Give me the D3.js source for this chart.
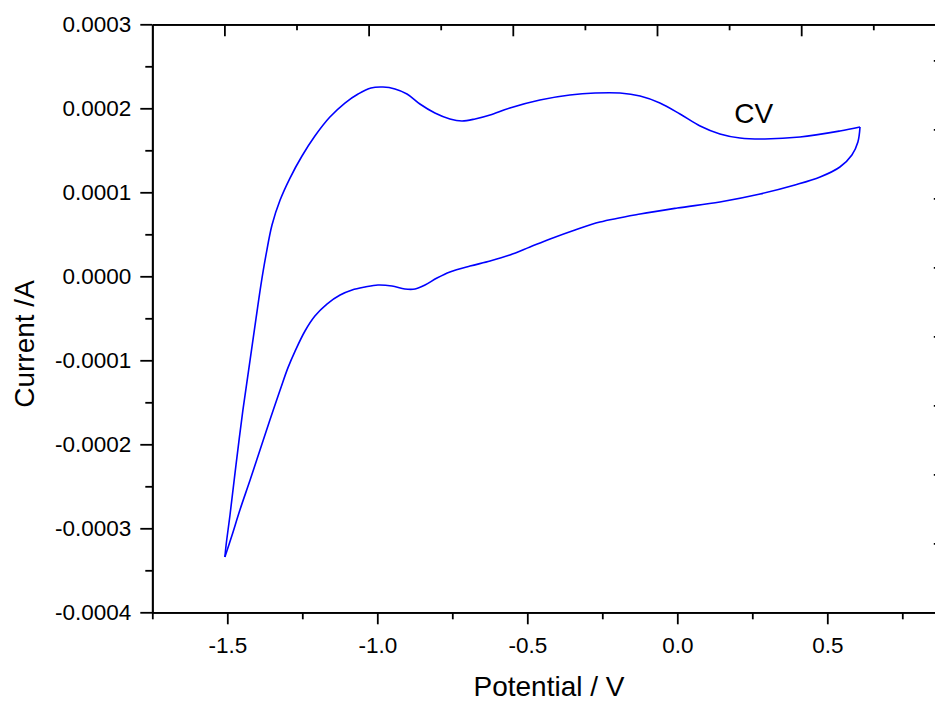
<!DOCTYPE html>
<html>
<head>
<meta charset="utf-8">
<script src="https://cdn.jsdelivr.net/npm/d3@7/dist/d3.min.js"></script>
<style>
  html, body { margin: 0; padding: 0; background: #fff; }
  svg { display: block; font-family: Arial, "Liberation Sans", Helvetica, sans-serif; }
</style>
</head>
<body>
<svg id="chart" width="935" height="702"></svg>
<script>
// Cyclic voltammogram: current (A) against potential (V).
// Branch running from the positive vertex back to the negative vertex (upper trace).
const upperPotential = [0.609, 0.542, 0.409, 0.292, 0.209, 0.142, 0.076, 0.009, -0.058, -0.124,
  -0.191, -0.274, -0.358, -0.458, -0.558, -0.624, -0.674, -0.718, -0.758, -0.808,
  -0.858, -0.901, -0.941, -0.981, -1.021, -1.064, -1.108, -1.158, -1.208, -1.251,
  -1.291, -1.324, -1.351, -1.371, -1.388, -1.404, -1.424, -1.448, -1.471, -1.491,
  -1.504, -1.508];
const upperCurrent = [0.0001777, 0.0001730, 0.0001658, 0.0001635, 0.0001646, 0.0001694, 0.0001789, 0.0001932, 0.0002063, 0.0002146,
  0.0002182, 0.0002182, 0.0002158, 0.0002099, 0.0002004, 0.0001920, 0.0001873, 0.0001849, 0.0001873, 0.0001944,
  0.0002051, 0.0002170, 0.0002230, 0.0002253, 0.0002242, 0.0002170, 0.0002063, 0.0001896, 0.0001670, 0.0001432,
  0.0001170, 0.0000908, 0.0000611, 0.0000254, -0.0000104, -0.0000496, -0.0000996, -0.0001592, -0.0002246, -0.0002842,
  -0.0003199, -0.0003342];

// Branch running from the negative vertex back up to the positive vertex (lower trace).
const lowerPotential = [-1.508, -1.484, -1.458, -1.424, -1.391, -1.358, -1.324, -1.298, -1.274, -1.241,
  -1.208, -1.168, -1.124, -1.084, -1.041, -0.998, -0.951, -0.908, -0.874, -0.841,
  -0.801, -0.758, -0.691, -0.624, -0.558, -0.491, -0.424, -0.341, -0.258, -0.124,
  0.000, 0.142, 0.276, 0.392, 0.476, 0.542, 0.582, 0.602, 0.609];
const lowerCurrent = [-0.0003342, -0.0003080, -0.0002782, -0.0002425, -0.0002068, -0.0001711, -0.0001354, -0.0001090, -0.0000890, -0.0000651,
  -0.0000473, -0.0000330, -0.0000223, -0.0000163, -0.0000128, -0.0000104, -0.0000116, -0.0000151, -0.0000151, -0.0000104,
  -0.0000021, 0.0000051, 0.0000122, 0.0000182, 0.0000254, 0.0000349, 0.0000444, 0.0000551, 0.0000646, 0.0000742,
  0.0000813, 0.0000885, 0.0000980, 0.0001087, 0.0001182, 0.0001301, 0.0001444, 0.0001599, 0.0001777];

// Axis ticks
const potentialMajorTicks = [-1.5, -1.0, -0.5, 0.0, 0.5];
const potentialMinorTicks = [-1.75, -1.25, -0.75, -0.25, 0.25, 0.75];
const currentMajorTicks = [-0.0004, -0.0003, -0.0002, -0.0001, 0.0, 0.0001, 0.0002, 0.0003];
const currentMinorTicks = [-0.00035, -0.00025, -0.00015, -0.00005, 0.00005, 0.00015, 0.00025];
// Opposite-layer frame ticks (unlabelled)
const topMajorTicks = [1, 3, 5, 7, 9];
const topMinorTicks = [2, 4, 6, 8, 10];
const rightTicks = [1, 2, 3, 4, 5, 6, 7, 8];

const seriesLabel = "CV";
const seriesLabelAt = [0.19, 0.000182];

const svg = d3.select("#chart");
const plotLeft = 152.3, plotRight = 939.8, plotTop = 24.3, plotBottom = 612.3;

const x = d3.scaleLinear().domain([-1.75, 0.875]).range([plotLeft, plotRight]);
const y = d3.scaleLinear().domain([-0.0004, 0.0003]).range([plotBottom, plotTop]);
const xTop = d3.scaleLinear().domain([0, (plotRight - plotLeft) / 72.1]).range([plotLeft, plotRight]);
const yRight = d3.scaleLinear().domain([0, (plotBottom - plotTop) / 69]).range([plotBottom, plotTop]);

const axisColor = "#000";
const axisWidth = 1.8;
const tickFont = 22.5;
const titleFont = 28;

function styleAxis(g) {
  g.selectAll("path.domain").attr("stroke", axisColor).attr("stroke-width", axisWidth);
  g.selectAll(".tick line").attr("stroke", axisColor).attr("stroke-width", axisWidth);
  g.selectAll(".tick text").attr("fill", "#000").style("font-size", tickFont + "px")
    .style("font-family", "Arial, 'Liberation Sans', sans-serif");
}

// Bottom axis (labelled)
svg.append("g").attr("transform", `translate(0,${plotBottom})`)
  .call(d3.axisBottom(x).tickValues(potentialMinorTicks).tickSize(7).tickSizeOuter(0).tickFormat(""))
  .call(styleAxis);
svg.append("g").attr("transform", `translate(0,${plotBottom})`)
  .call(d3.axisBottom(x).tickValues(potentialMajorTicks).tickSize(12).tickSizeOuter(0).tickPadding(13)
    .tickFormat(d => d.toFixed(1)))
  .call(styleAxis);

// Left axis (labelled)
svg.append("g").attr("transform", `translate(${plotLeft},0)`)
  .call(d3.axisLeft(y).tickValues(currentMinorTicks).tickSize(7).tickSizeOuter(0).tickFormat(""))
  .call(styleAxis);
svg.append("g").attr("transform", `translate(${plotLeft},0)`)
  .call(d3.axisLeft(y).tickValues(currentMajorTicks).tickSize(12).tickSizeOuter(0).tickPadding(9)
    .tickFormat(d => d.toFixed(4)))
  .call(styleAxis);

// Top frame with inward ticks
svg.append("g").attr("transform", `translate(0,${plotTop})`)
  .call(d3.axisBottom(xTop).tickValues(topMinorTicks).tickSize(6).tickSizeOuter(0).tickFormat(""))
  .call(styleAxis);
svg.append("g").attr("transform", `translate(0,${plotTop})`)
  .call(d3.axisBottom(xTop).tickValues(topMajorTicks).tickSize(12).tickSizeOuter(0).tickFormat(""))
  .call(styleAxis);

// Right frame with inward ticks
svg.append("g").attr("transform", `translate(${plotRight},0)`)
  .call(d3.axisLeft(yRight).tickValues(rightTicks).tickSize(6).tickSizeOuter(0).tickFormat(""))
  .call(styleAxis);

// Voltammogram trace
const line = d3.line()
  .x(d => x(d[0]))
  .y(d => y(d[1]))
  .curve(d3.curveCatmullRom.alpha(0.5));

const upper = upperPotential.map((v, i) => [v, upperCurrent[i]]);
const lower = lowerPotential.map((v, i) => [v, lowerCurrent[i]]);

svg.append("g")
  .selectAll("path")
  .data([upper, lower])
  .join("path")
  .attr("d", line)
  .attr("fill", "none")
  .attr("stroke", "#0000ff")
  .attr("stroke-width", 1.6)
  .attr("stroke-linejoin", "round");

// Series label
svg.append("text")
  .attr("x", x(seriesLabelAt[0]))
  .attr("y", y(seriesLabelAt[1]))
  .style("font-size", titleFont + "px")
  .attr("fill", "#000")
  .text(seriesLabel);

// Axis titles
svg.append("text")
  .attr("x", 549)
  .attr("y", 696)
  .attr("text-anchor", "middle")
  .style("font-size", titleFont + "px")
  .attr("fill", "#000")
  .text("Potential / V");

svg.append("text")
  .attr("transform", "translate(34,344) rotate(-90)")
  .attr("text-anchor", "middle")
  .style("font-size", titleFont + "px")
  .attr("fill", "#000")
  .text("Current /A");
</script>
</body>
</html>
